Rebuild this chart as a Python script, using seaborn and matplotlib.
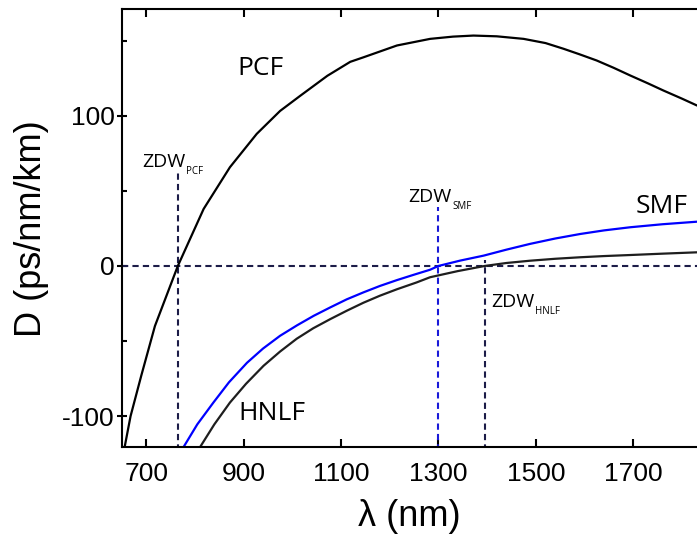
import numpy as np
import pandas as pd
import matplotlib
matplotlib.use("Agg")
import matplotlib.pyplot as plt
import seaborn as sns

# ---- data ----
pcf_wl = [655, 668, 690, 718, 765, 818, 872, 927, 975, 1016, 1072, 1119, 1146,
          1215, 1283, 1330, 1372, 1420, 1475, 1520, 1557, 1590, 1625, 1660,
          1694, 1730, 1762, 1800, 1831]
pcf_D = [-122, -100, -73, -40, 0, 38, 65.8, 88, 103.3, 113.3, 126.7, 136, 139,
         146.9, 151.3, 152.8, 153.5, 153, 151.3, 148.5, 144.7, 141, 136.9, 132,
         126.9, 121.7, 116.9, 111.5, 106.9]

smf_wl = [777, 805, 838, 870, 907, 940, 975, 1010, 1044, 1078, 1112, 1146, 1180,
          1215, 1249, 1283, 1300, 1345, 1393, 1440, 1488, 1540, 1591, 1640, 1694,
          1760, 1831]
smf_D = [-120.5, -105.5, -91, -77.5, -64.5, -55, -46.5, -39.5, -33.2, -27.6, -22.2,
         -17.6, -13.3, -9.4, -5.9, -2.5, 0, 3.6, 6.9, 10.9, 14.7, 18.3, 21.3, 23.7,
         25.8, 27.8, 29.5]

hnlf_wl = [811, 840, 872, 905, 941, 975, 1009, 1043, 1078, 1112, 1146, 1180, 1215,
           1255, 1283, 1340, 1395, 1440, 1488, 1540, 1591, 1640, 1694, 1760, 1831]
hnlf_D = [-120.5, -105.5, -91, -78.5, -66.5, -57, -48.5, -41.5, -35.4, -29.8, -24.5,
          -19.8, -15.5, -11, -7.5, -3.4, 0, 2, 3.5, 4.8, 5.8, 6.6, 7.3, 8.2, 9.1]

zdw_names = ["PCF", "SMF", "HNLF"]
zdw_wl = [765, 1300, 1395]
zdw_top = [64, 39, 4]
zdw_colors = ["#1c1c48", "#1a1ad8", "#1c1c48"]
zdw_label_pos = [(692, 66), (1238, 42.7), (1408, -27.3)]

curve_labels = ["PCF", "SMF", "HNLF"]
curve_label_pos = [(887, 127.3), (1704, 35.3), (889, -102.7)]

x_ticks = [700, 900, 1100, 1300, 1500, 1700]
y_major = [-100, 0, 100]
y_minor = [-50, 50, 150]

# ---- styling ----
sns.set_style("ticks")
plt.rcParams["font.family"] = ["Liberation Sans", "DejaVu Sans"]
plt.rcParams["text.color"] = "black"
plt.rcParams["axes.labelcolor"] = "black"
plt.rcParams["xtick.color"] = "black"
plt.rcParams["ytick.color"] = "black"

fig = plt.figure(figsize=(6.97, 5.37), dpi=100)
ax = fig.add_axes([122.3 / 697, 90 / 537, 1 - 122.3 / 697, (447 - 9.3) / 537])

df = pd.concat([
    pd.DataFrame({"wl": pcf_wl, "D": pcf_D, "fiber": "PCF"}),
    pd.DataFrame({"wl": smf_wl, "D": smf_D, "fiber": "SMF"}),
    pd.DataFrame({"wl": hnlf_wl, "D": hnlf_D, "fiber": "HNLF"}),
], ignore_index=True)

palette = {"PCF": "#000000", "SMF": "#0000ff", "HNLF": "#1e1e1e"}
sns.lineplot(data=df, x="wl", y="D", hue="fiber", palette=palette, sort=False,
             estimator=None, linewidth=1.6, legend=False, ax=ax)

dash = (0, (3.0, 2.0))
ax.axhline(0, color="#1c1c48", lw=1.5, ls=dash, zorder=1)
for wl, top, c in zip(zdw_wl, zdw_top, zdw_colors):
    ax.plot([wl, wl], [-130, top], color=c, lw=1.5, ls=dash, zorder=1)

ax.set_xlim(651, 1831)
ax.set_ylim(-120.6, 171)

ax.set_xticks(x_ticks)
ax.set_yticks(y_major)
ax.set_yticks(y_minor, minor=True)
ax.set_xticklabels([str(v) for v in x_ticks])
ax.set_yticklabels([str(v) for v in y_major])

ax.tick_params(axis="x", which="major", direction="in", length=5.5, width=1.5,
               labelsize=19, pad=10.5, top=True, labeltop=False)
ax.tick_params(axis="y", which="major", direction="inout", length=7, width=1.5,
               labelsize=19, pad=2)
ax.tick_params(axis="y", which="minor", direction="in", length=3.5, width=1.5)
ax.tick_params(axis="x", which="minor", bottom=False, top=False)

for side in ["left", "bottom", "top"]:
    ax.spines[side].set_linewidth(1.5)
    ax.spines[side].set_color("black")
ax.spines["right"].set_visible(False)

ax.set_xlabel("\u03bb (nm)", fontsize=26)
ax.set_ylabel("D (ps/nm/km)", fontsize=26)
ax.xaxis.set_label_coords(0.5, -0.118)
ax.yaxis.set_label_coords(-0.127, 0.5)

lab_font = ["Open Sans", "DejaVu Sans"]
for name, (x, y) in zip(curve_labels, curve_label_pos):
    ax.text(x, y, name, fontsize=19, family=lab_font, ha="left", va="baseline",
            color="black")

for name, (x, y) in zip(zdw_names, zdw_label_pos):
    t = ax.text(x, y, "ZDW", fontsize=14, family=lab_font, ha="left",
                va="baseline", color="black")
    ax.annotate(name, xy=(1, 0), xycoords=t, xytext=(0.5, -2.5),
                textcoords="offset points", fontsize=7, family=lab_font,
                ha="left", va="baseline", color="black")

fig.savefig("out.png", dpi=100)
